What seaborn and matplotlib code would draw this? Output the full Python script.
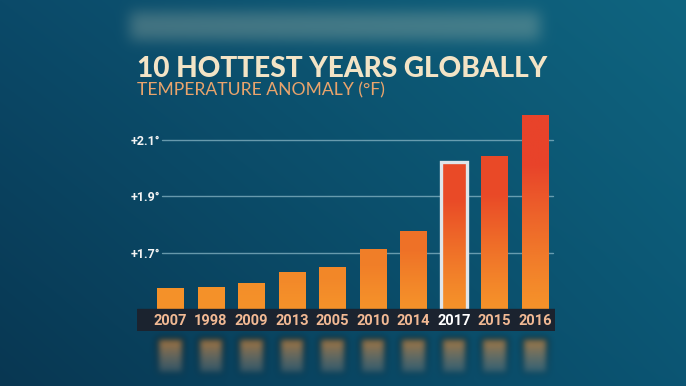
import numpy as np
import pandas as pd
import matplotlib
matplotlib.use("Agg")
import matplotlib.pyplot as plt
import seaborn as sns
from matplotlib.colors import LinearSegmentedColormap, to_rgb

# ten hottest years, temperature anomaly in deg F
years = ["2007", "1998", "2009", "2013", "2005", "2010", "2014", "2017", "2015", "2016"]
anomaly = [1.574, 1.578, 1.594, 1.631, 1.649, 1.712, 1.778, 2.021, 2.044, 2.188]
tick_values = [1.7, 1.9, 2.1]
tick_labels = ["+1.7°", "+1.9°", "+2.1°"]
highlight = "2017"

W, H, DPI = 686, 386, 100
BASE = 1.5
YLIM = (1.4232, 2.241)
XLIM = (-0.827, 9.494)

sns.set_theme(style="white")
plt.rcParams["font.family"] = ["Lato", "DejaVu Sans"]
narrow = ["Roboto", "DejaVu Sans"]

df = pd.DataFrame({"year": years, "anomaly": anomaly})

fig = plt.figure(figsize=(W / DPI, H / DPI), dpi=DPI)

# background axes (filled later once bar positions are known)
bg_ax = fig.add_axes([0, 0, 1, 1], zorder=0)
bg_ax.set_axis_off()

ax = fig.add_axes([137 / W, 55 / H, 418 / W, 231 / H], zorder=1)
ax.patch.set_alpha(0)

sns.barplot(data=df, x="year", y="anomaly", order=years, width=0.66,
            color="#f5902a", ax=ax, zorder=2)
ax.set_xlim(*XLIM)
ax.set_ylim(*YLIM)
for s in ax.spines.values():
    s.set_visible(False)
ax.set_xlabel("")
ax.set_ylabel("")

# grid lines
for v in tick_values:
    ax.axhline(v, xmin=0.06, xmax=0.995, color="#8fbccb", lw=1.0, alpha=0.7, zorder=1)

# gradient fill of bars
bottom_col = np.array(to_rgb("#f5922a"))
top_cmap = LinearSegmentedColormap.from_list(
    "tops", [(0.0, "#f5952a"), (0.3, "#f07a28"), (0.6, "#ea4f26"), (1.0, "#e8432a")])
bars = ax.patches[:len(years)]
for patch, yr, val in zip(bars, years, anomaly):
    x0, w = patch.get_x(), patch.get_width()
    tcol = np.array(top_cmap((val - 1.55) / (2.19 - 1.55))[:3])
    n = 200
    ys = np.linspace(YLIM[0], val, n)
    f = np.clip((ys - BASE) / (val - BASE), 0, 1)
    f = np.clip(f * 1.35, 0, 1) ** 1.2
    grad = bottom_col[None, :] * (1 - f[:, None]) + tcol[None, :] * f[:, None]
    img = ax.imshow(grad[:, None, :], extent=[x0, x0 + w, YLIM[0], val], origin="lower",
                    aspect="auto", zorder=2, interpolation="bilinear")
    img.set_clip_path(patch)
    patch.set_facecolor("none")
    patch.set_edgecolor("none")
    patch.set_zorder(3)
    if yr == highlight:
        patch.set_edgecolor("#dfe5ea")
        patch.set_linewidth(2.4)
ax.set_xlim(*XLIM)
ax.set_ylim(*YLIM)

# dark label strip
ax.axhspan(YLIM[0], BASE, color="#1b232f", zorder=4)
ax.xaxis.set_zorder(6)
ax.yaxis.set_zorder(6)

ax.set_yticks(tick_values)
ax.set_yticklabels(tick_labels, family=narrow, fontsize=9, fontweight="bold", color="#f4f4f4")
ax.tick_params(axis="y", length=0, pad=-16.5)
ax.tick_params(axis="x", length=0, pad=-12.5)
for lbl in ax.get_xticklabels():
    lbl.set_family(narrow)
    lbl.set_fontsize(10.5)
    lbl.set_fontweight("bold")
    lbl.set_color("#ffffff" if lbl.get_text() == highlight else "#f1b994")

# background picture: gradient, blurred header, reflections of the bars
yy, xx = np.mgrid[0:H, 0:W]
fx, fy = xx / W, yy / H
tl, tr = np.array(to_rgb("#0b4a69")), np.array(to_rgb("#0f6580"))
bl, br = np.array(to_rgb("#083752")), np.array(to_rgb("#0b5573"))
top = tl * (1 - fx[..., None]) + tr * fx[..., None]
bot = bl * (1 - fx[..., None]) + br * fx[..., None]
bg = top * (1 - fy[..., None]) + bot * fy[..., None]


def blur(a, r, passes=3):
    for _ in range(passes):
        for axis in (0, 1):
            c = np.cumsum(np.pad(a, [(r + 1, r) if i == axis else (0, 0) for i in range(a.ndim)],
                                 mode="edge"), axis=axis)
            if axis == 0:
                a = (c[2 * r + 1:] - c[:-2 * r - 1]) / (2 * r + 1)
            else:
                a = (c[:, 2 * r + 1:] - c[:, :-2 * r - 1]) / (2 * r + 1)
    return a


# blurred header band at the top
band = np.zeros((H, W))
band[12:40, 130:540] = 1.0
band = blur(band, 6)
pale = np.array(to_rgb("#cfd2b8"))
bg = bg * (1 - 0.28 * band[..., None]) + pale * 0.28 * band[..., None]

# reflections of the bars below the strip
fig.canvas.draw()
refl = np.zeros((H, W))
rcol = np.zeros((H, W, 3))
c0 = np.array(to_rgb("#f08a2a"))
c1 = np.array(to_rgb("#c8a088"))
for patch, val in zip(bars, anomaly):
    x0, w = patch.get_x(), patch.get_width()
    px0 = ax.transData.transform((x0, BASE))[0]
    px1 = ax.transData.transform((x0 + w, BASE))[0]
    i0, i1 = int(round(px0)), int(round(px1))
    a = np.linspace(0.9, 0.25, 36)
    refl[338:374, i0:i1] = a[:, None]
    t = np.linspace(0, 1, 36)[:, None]
    rcol[338:374, i0:i1] = (c0 * (1 - t) + c1 * t)[:, None, :]
refl = blur(refl, 3)
rcol = blur(rcol, 3)
m = refl[..., None] * 0.75
rc = np.clip(rcol / np.maximum(blur((rcol.sum(axis=2) > 0).astype(float), 3)[..., None], 1e-3), 0, 1)
bg = bg * (1 - m) + rc * m

bg_ax.imshow(np.clip(bg, 0, 1), extent=[0, 1, 0, 1], aspect="auto", origin="upper")
bg_ax.set_xlim(0, 1)
bg_ax.set_ylim(0, 1)

fig.text(137 / W, 1 - 77 / H, "10 HOTTEST YEARS GLOBALLY", fontsize=20.2, fontweight="black",
         color="#f3e4c6", va="baseline", ha="left")
fig.text(137 / W, 1 - 95.5 / H, "TEMPERATURE ANOMALY (°F)", fontsize=12.6, color="#eaa46c",
         va="baseline", ha="left")

fig.savefig("out.png", dpi=DPI)
